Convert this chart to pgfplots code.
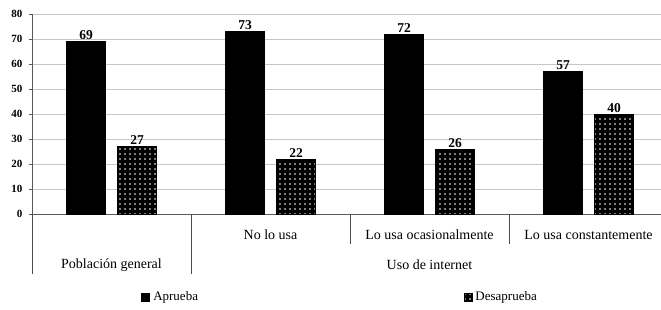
\documentclass[border=0pt]{standalone}
\usepackage{fontspec}
\setmainfont{Liberation Serif}
\usepackage{pgfplots}
\pgfplotsset{compat=1.18}
\usetikzlibrary{patterns.meta}
\begin{document}
\begin{tikzpicture}
\begin{axis}[
  scale only axis,
  width=629pt, height=200pt,
  xmin=0, xmax=3.956,
  ymin=0, ymax=80,
  ytick={0,10,...,80},
  xtick=\empty,
  ymajorgrids,
  grid style={color=black!22, line width=1pt},
  axis x line*=bottom, axis y line*=left,
  axis line style={black!65, line width=0.8pt},
  tick align=outside,
  major tick length=3pt,
  major y tick style={black!65, line width=0.8pt},
  /pgf/number format/assume math mode=true,
  yticklabel style={font=\bfseries\fontsize{11}{13}\selectfont, xshift=-3pt},
  ybar=12pt, bar width=39pt,
  nodes near coords,
  nodes near coords style={font=\bfseries\fontsize{13.5}{15}\selectfont, inner sep=1.5pt},
  clip=false,
  legend columns=2,
  legend image code/.code={\draw[#1] (0pt,-4pt) rectangle (8pt,4pt);},
  legend style={draw=none, fill=none, at={(axis description cs:0.491,-0.415)}, anchor=center,
    font=\fontsize{13}{15}\selectfont,
    nodes={inner xsep=3.5pt},
    /tikz/every even column/.append style={column sep=262pt}},
]
\addplot[fill=black, draw=black] coordinates {(0.5,69) (1.5,73) (2.5,72) (3.5,57)};
\addplot[fill=black, draw=black, postaction={pattern color=white, pattern={Dots[distance=5pt,radius=0.8pt]}}] coordinates {(0.5,27) (1.5,22) (2.5,26) (3.5,40)};
\legend{Aprueba, Desaprueba}
\draw[black!70, line width=0.8pt] (axis cs:0,0) -- ++(0,-60pt);
\draw[black!70, line width=0.8pt] (axis cs:1,0) -- ++(0,-60pt);
\draw[black!70, line width=0.8pt] (axis cs:2,0) -- ++(0,-30pt);
\draw[black!70, line width=0.8pt] (axis cs:3,0) -- ++(0,-30pt);
\node[font=\fontsize{14}{16}\selectfont, yshift=-21pt] at (axis cs:1.5,0) {No lo usa};
\node[font=\fontsize{14}{16}\selectfont, yshift=-21pt] at (axis cs:2.5,0) {Lo usa ocasionalmente};
\node[font=\fontsize{14}{16}\selectfont, yshift=-21pt] at (axis cs:3.5,0) {Lo usa constantemente};
\node[font=\fontsize{14}{16}\selectfont, yshift=-51pt] at (axis cs:0.5,0) {Población general};
\node[font=\fontsize{14}{16}\selectfont, yshift=-51pt] at (axis cs:2.5,0) {Uso de internet};
\coordinate (SW) at (rel axis cs:0,0);
\coordinate (NE) at (rel axis cs:1,1);
\end{axis}
\pgfresetboundingbox
\path[use as bounding box] ([xshift=-32pt,yshift=-95pt]SW) rectangle ([yshift=14pt]NE);
\end{tikzpicture}
\end{document}
